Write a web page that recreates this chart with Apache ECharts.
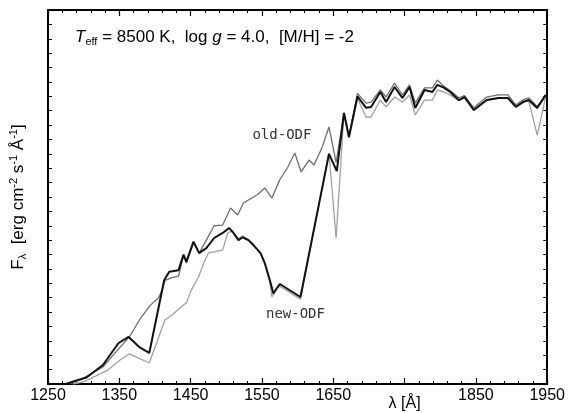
<!DOCTYPE html>
<html>
<head>
<meta charset="utf-8">
<script src="https://cdn.jsdelivr.net/npm/echarts@6/dist/echarts.min.js"></script>
<style>
  html, body { margin: 0; padding: 0; background: #fff; }
  #chart { width: 568px; height: 413px; }
</style>
</head>
<body>
<div id="chart"></div>
<script>
// wavelength (Å) and flux (arbitrary units)
const newLam = [1275, 1290, 1304, 1327, 1344, 1349, 1363, 1378, 1392, 1413, 1420, 1433, 1440, 1444, 1454, 1462, 1472, 1483, 1495, 1504, 1510, 1517, 1523, 1531, 1538, 1548, 1554, 1561, 1566, 1575, 1604, 1644, 1655, 1665, 1672, 1684, 1696, 1703, 1716, 1724, 1736, 1747, 1757, 1765, 1778, 1789, 1796, 1805, 1814, 1826, 1834, 1847, 1865, 1881, 1895, 1906, 1916, 1924, 1936, 1948];
const newFlux = [0, 0.25, 0.45, 1.32, 2.5, 2.85, 3.27, 2.57, 2.16, 7.23, 7.8, 7.9, 9.0, 8.5, 9.9, 9.1, 9.45, 10.15, 10.5, 10.85, 10.5, 10.0, 10.2, 10.0, 9.66, 9.1, 8.4, 7.23, 6.3, 6.95, 6.05, 16.0, 14.8, 18.84, 17.17, 20.0, 19.2, 19.26, 20.3, 19.6, 20.65, 19.88, 20.65, 19.19, 20.44, 20.3, 20.79, 20.6, 20.3, 19.74, 19.95, 19.05, 19.74, 19.88, 19.88, 19.26, 19.6, 19.74, 19.19, 20.1];

const oldLam = [1280, 1296, 1327, 1345, 1364, 1380, 1394, 1405, 1410, 1414, 1424, 1433, 1440, 1444, 1454, 1462, 1472, 1483, 1495, 1506, 1516, 1524, 1543, 1554, 1564, 1575, 1586, 1596, 1605, 1616, 1623, 1634, 1644, 1654, 1665, 1672, 1684, 1696, 1703, 1716, 1724, 1736, 1747, 1757, 1765, 1778, 1789, 1796, 1805, 1814, 1826, 1834, 1847, 1865, 1881, 1895, 1906, 1916, 1924, 1936, 1948];
const oldFlux = [0, 0.3, 1.18, 2.22, 3.27, 4.59, 5.5, 5.98, 6.53, 7.2, 7.4, 7.5, 8.9, 8.4, 9.8, 9.1, 10.0, 11.0, 11.05, 12.24, 11.75, 12.58, 13.14, 13.63, 12.93, 14.2, 15.05, 16.06, 14.74, 15.57, 15.22, 16.4, 17.87, 15.4, 18.84, 17.2, 20.2, 19.53, 19.6, 20.44, 19.95, 20.92, 20.09, 20.79, 19.53, 20.58, 20.58, 21.13, 20.7, 20.4, 19.9, 20.05, 19.2, 19.95, 20.1, 20.1, 19.4, 19.75, 19.9, 19.3, 20.1];

const thirdLam = [1285, 1300, 1334, 1351, 1364, 1392, 1414, 1424, 1435, 1440, 1444, 1451, 1455, 1461, 1469, 1475, 1483, 1495, 1502, 1506, 1510, 1517, 1523, 1531, 1538, 1548, 1554, 1561, 1564, 1571, 1575, 1604, 1644, 1654, 1665, 1672, 1684, 1696, 1703, 1716, 1724, 1736, 1747, 1757, 1765, 1778, 1789, 1796, 1805, 1814, 1826, 1834, 1847, 1865, 1881, 1895, 1906, 1916, 1924, 1936, 1948];
const thirdFlux = [0, 0.15, 0.97, 1.67, 2.09, 1.46, 4.45, 4.8, 5.28, 5.49, 5.63, 6.53, 6.9, 7.44, 8.48, 9.11, 9.18, 9.32, 10.5, 10.6, 10.55, 10.1, 10.3, 10.05, 9.7, 9.1, 8.4, 7.1, 6.05, 6.67, 6.8, 5.9, 16.06, 10.15, 18.84, 17.1, 19.85, 18.56, 18.56, 19.74, 19.26, 19.95, 19.6, 20.09, 18.7, 19.74, 19.74, 20.44, 20.3, 20.1, 19.7, 19.9, 19.0, 19.7, 19.85, 19.85, 19.3, 19.6, 19.7, 17.3, 20.0];

const xMin = 1250, xMax = 1950, xStep = 100;
const yMin = 0, yMax = 26;

const chart = echarts.init(document.getElementById("chart"), null, { renderer: "canvas" });

const pairs = (lam, flux) => lam.map((l, i) => [l, flux[i]]);

const font = "'Liberation Sans', Arial, Helvetica, sans-serif";
const mono = "'DejaVu Sans Mono', monospace";

function xAxisDef(position, showLabels) {
  return {
    type: "value",
    position: position,
    min: xMin,
    max: xMax,
    interval: xStep,
    axisLine: { show: true, onZero: false, lineStyle: { color: "#000", width: 2 } },
    axisTick: { show: true, inside: true, length: 6, lineStyle: { color: "#000", width: 1.2 } },
    minorTick: { show: true, splitNumber: 5, length: 3, lineStyle: { color: "#000", width: 1 } },
    splitLine: { show: false },
    axisLabel: showLabels
      ? {
          show: true,
          margin: 4,
          fontFamily: font,
          fontSize: 16,
          color: "#000",
          formatter: (v) => (v === 1750 ? "{lam|λ [Å]}" : String(v)),
          rich: {
            lam: { fontFamily: font, fontSize: 16, color: "#000", padding: [8, 0, 0, 0] },
          },
        }
      : { show: false },
  };
}

function yAxisDef(position) {
  return {
    type: "value",
    position: position,
    min: yMin,
    max: yMax,
    interval: 1,
    axisLine: { show: true, onZero: false, lineStyle: { color: "#000", width: 2 } },
    axisTick: { show: true, inside: true, length: 4, lineStyle: { color: "#000", width: 1 } },
    axisLabel: { show: false },
    splitLine: { show: false },
  };
}

const yLeft = yAxisDef("left");
yLeft.name = "F{sub|λ}  [erg cm{sup|-2} s{sup|-1} Å{sup|-1}]";
yLeft.nameLocation = "middle";
yLeft.nameGap = 20;
yLeft.nameTextStyle = {
  fontFamily: font,
  fontSize: 17,
  color: "#000",
  lineHeight: 20,
  rich: {
    sub: { fontFamily: font, fontSize: 11, color: "#000", verticalAlign: "bottom", lineHeight: 13 },
    sup: { fontFamily: font, fontSize: 11, color: "#000", verticalAlign: "top", lineHeight: 13 },
  },
};

const option = {
  backgroundColor: "#fff",
  animation: false,
  title: {
    text: "{it|T}{sub|eff} = 8500 K,  log {it|g} = 4.0,  [M/H] = -2",
    left: 70,
    top: 22,
    textStyle: {
      fontFamily: font,
      fontSize: 17,
      fontWeight: "normal",
      color: "#000",
      lineHeight: 20,
      rich: {
        it: { fontFamily: font, fontSize: 17, fontStyle: "italic", color: "#000", lineHeight: 20 },
        sub: { fontFamily: font, fontSize: 11, color: "#000", verticalAlign: "bottom", lineHeight: 13 },
      },
    },
  },
  grid: { left: 44, right: 16, top: 10, bottom: 29 },
  xAxis: [xAxisDef("bottom", true), xAxisDef("top", false)],
  yAxis: [yLeft, yAxisDef("right")],
  series: [
    {
      name: "third",
      type: "line",
      data: pairs(thirdLam, thirdFlux),
      showSymbol: false,
      symbol: "none",
      lineStyle: { color: "#a0a0a0", width: 1.3 },
      clip: true,
      z: 2,
    },
    {
      name: "old-ODF",
      type: "line",
      data: pairs(oldLam, oldFlux),
      showSymbol: false,
      symbol: "none",
      lineStyle: { color: "#6e6e6e", width: 1.3 },
      clip: true,
      z: 3,
      markPoint: {
        symbol: "circle",
        symbolSize: 0,
        data: [{ coord: [1578, 17.3], value: "old-ODF" }],
        label: {
          show: true,
          position: "inside",
          formatter: "old-ODF",
          fontFamily: mono,
          fontSize: 14,
          color: "#333",
        },
      },
    },
    {
      name: "new-ODF",
      type: "line",
      data: pairs(newLam, newFlux),
      showSymbol: false,
      symbol: "none",
      lineStyle: { color: "#111", width: 2 },
      clip: true,
      z: 4,
      markPoint: {
        symbol: "circle",
        symbolSize: 0,
        data: [{ coord: [1597, 4.87], value: "new-ODF" }],
        label: {
          show: true,
          position: "inside",
          formatter: "new-ODF",
          fontFamily: mono,
          fontSize: 14,
          color: "#333",
        },
      },
    },
  ],
};

chart.setOption(option);

window.addEventListener("resize", () => chart.resize());
</script>
</body>
</html>
